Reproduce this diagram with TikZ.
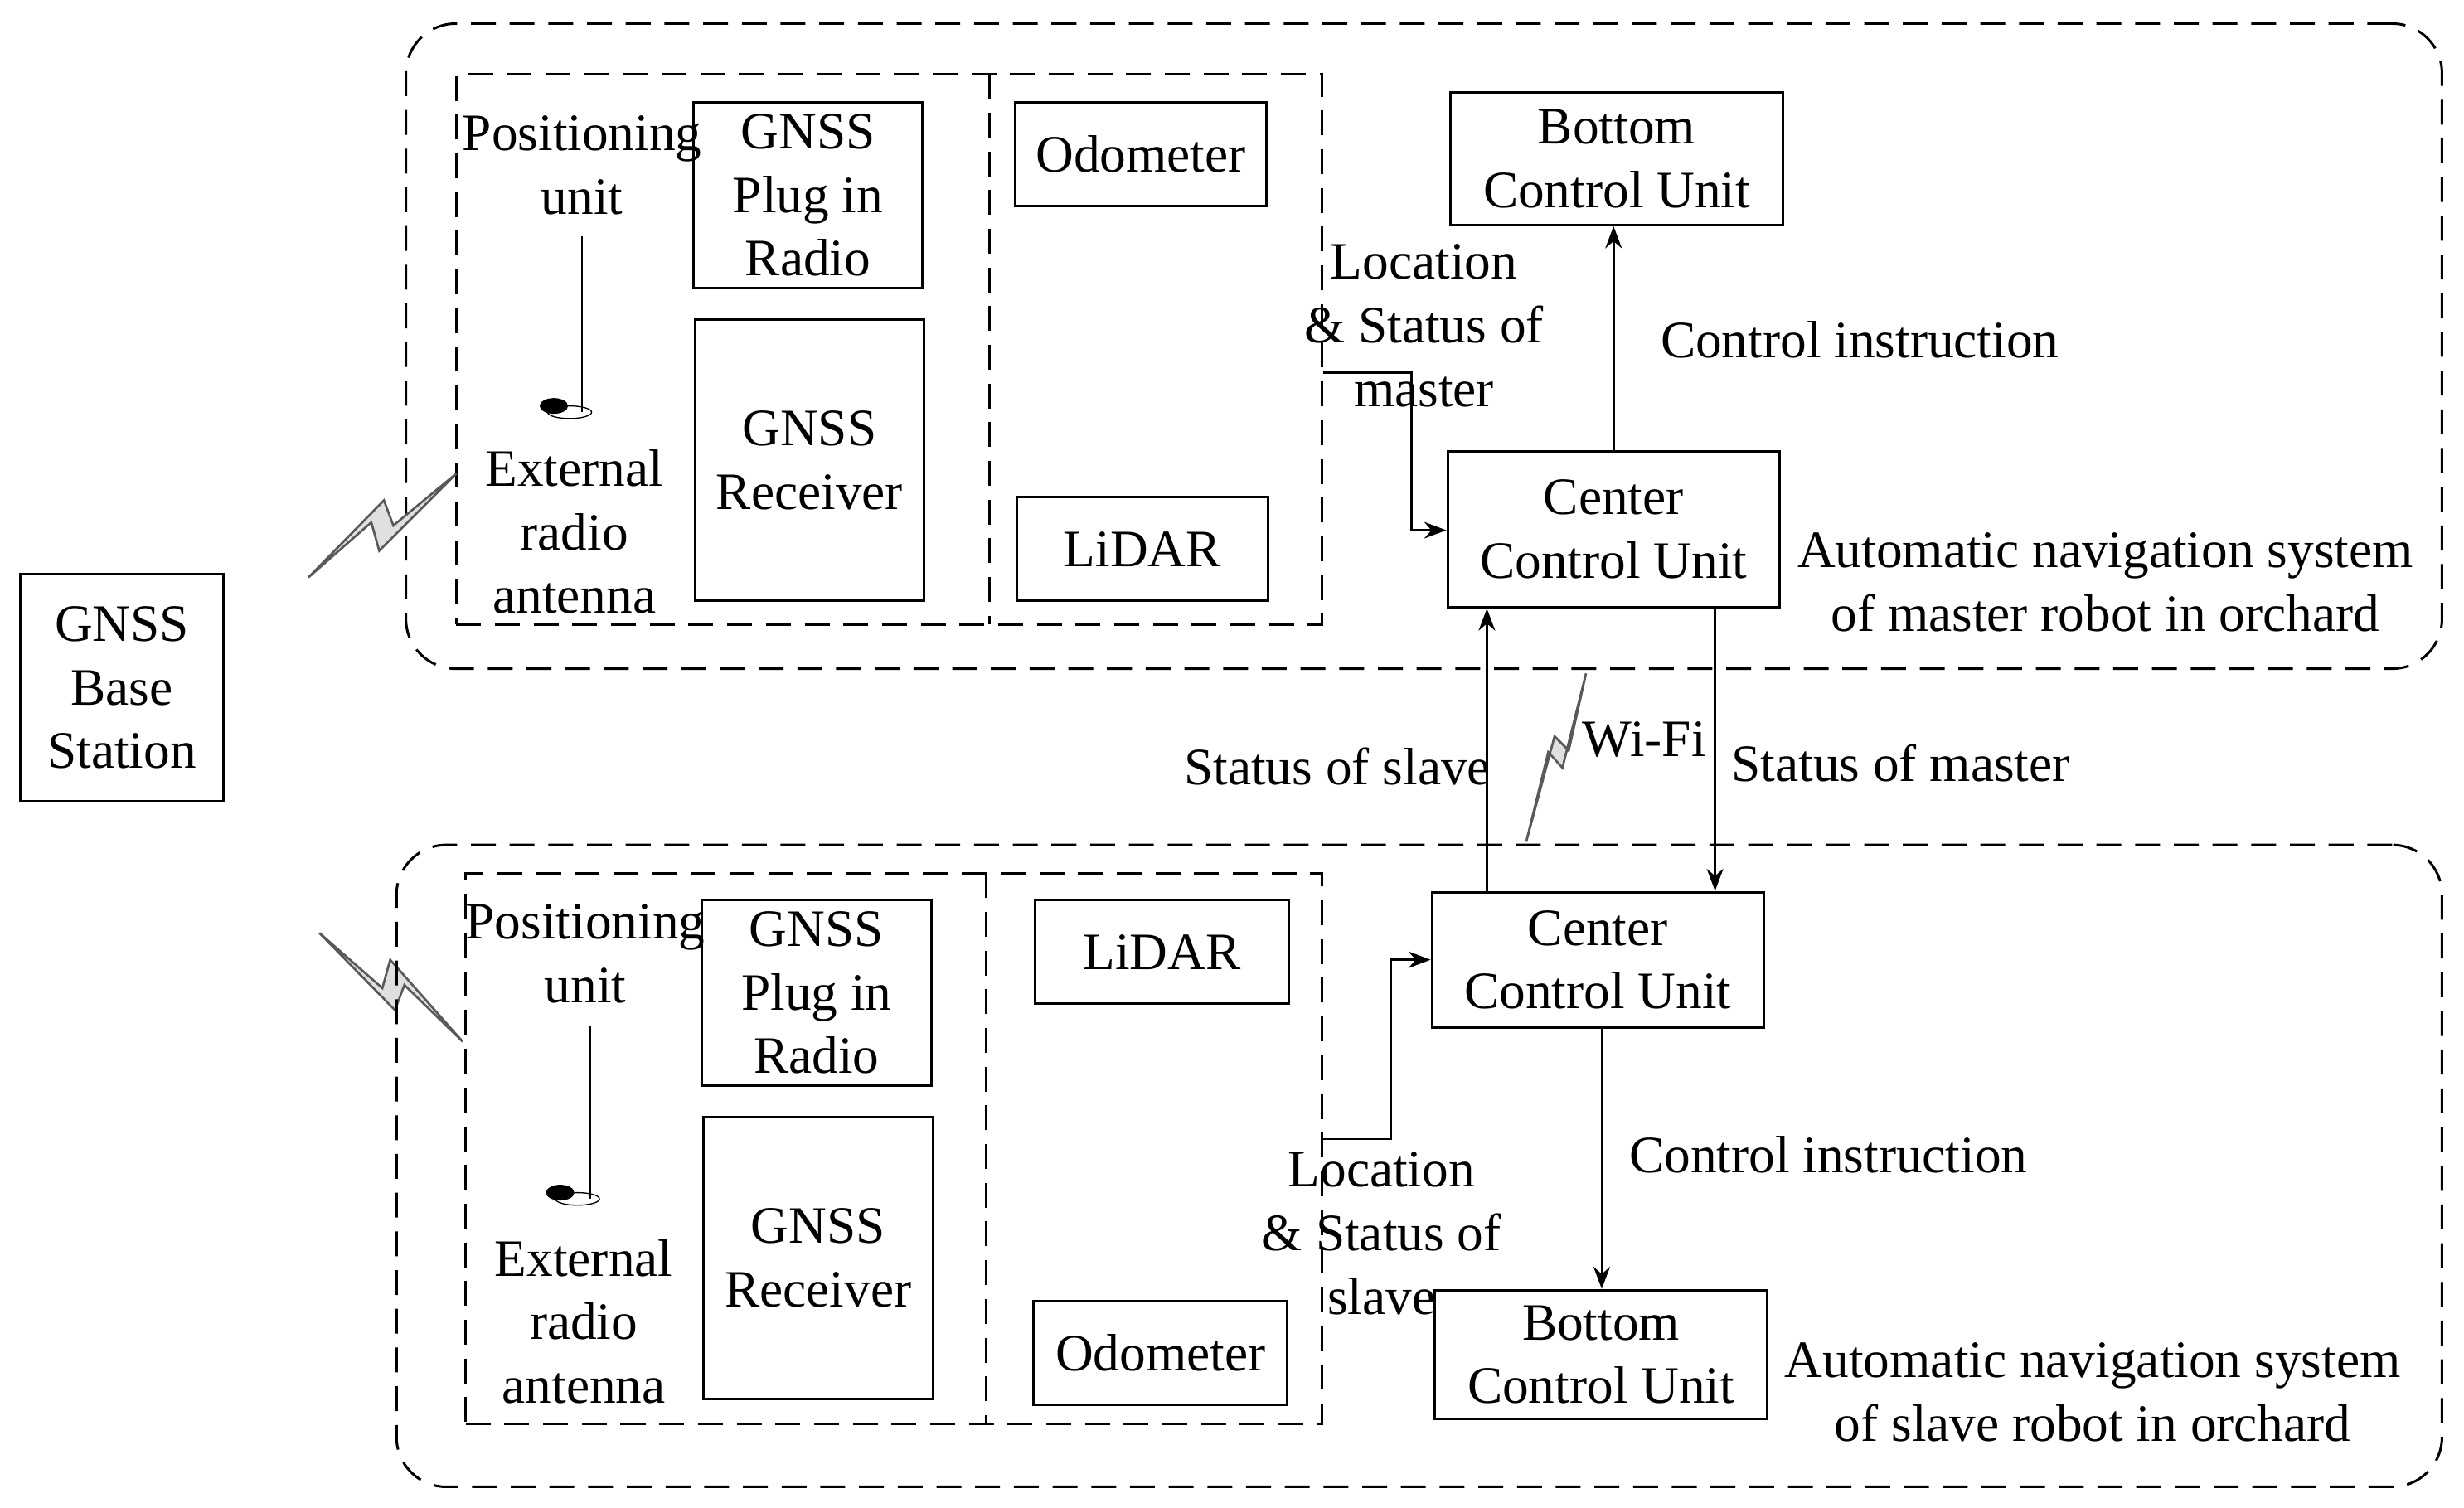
\documentclass[tikz,border=0pt]{standalone}
\usepackage{fontspec}
\setmainfont{Liberation Serif}
\usetikzlibrary{arrows.meta}
\begin{document}
\begin{tikzpicture}[x=0.02cm,y=-0.02cm,
  every node/.style={font=\fontsize{19}{23}\selectfont, align=center, inner sep=0pt},
  box/.style={draw, line width=0.9pt},
  dsh/.style={draw, line width=0.9pt, dash pattern=on 9pt off 5pt},
  arr/.style={draw, line width=0.8pt, -{Stealth[length=8pt,width=6pt]}},
  bolt/.style={draw=black!65, line width=0.8pt, fill=black!12, line join=miter}]
\useasboundingbox (0,0) rectangle (1566,958);
\newcommand{\bx}[6]{\node[#1,minimum width={(#4-#3)*0.02cm},minimum height={(#6-#5)*0.02cm}] (#2) at ({(#3+#4)/2},{(#5+#6)/2}) {};}
% top system
\bx{dsh,rounded corners=18pt}{outT}{258}{1552}{15}{425}
\bx{dsh}{inT}{290}{840}{47}{397}
\draw[dsh] (629,47) -- (629,397);
\bx{box}{plugT}{441}{586}{65}{183}
\node at (plugT) {GNSS\\Plug in\\Radio};
\bx{box}{recT}{442}{587}{203}{382}
\node at (recT) {GNSS\\Receiver};
\bx{box}{odoT}{645}{805}{65}{131}
\node at (odoT) {Odometer};
\bx{box}{lidT}{646}{806}{316}{382}
\node at (lidT) {LiDAR};
\bx{box}{bcuT}{922}{1133}{59}{143}
\node at (bcuT) {Bottom\\Control Unit};
\bx{box}{ccuT}{920}{1131}{287}{386}
\node at (ccuT) {Center\\Control Unit};
\node (posT) at (370,105) {Positioning\\unit};
\node (extT) at (365,338) {External\\radio\\antenna};
\draw[line width=0.6pt] (370,150) -- (370,262);
\fill (352,258) ellipse (9 and 5);
\draw (362,262) ellipse (14 and 4);
\node (locT) at (905,207) {Location\\\& Status of\\master};
\draw[arr] (inT.east |- {(0,237)}) -- (897,237) -- (897,337) -- (ccuT.west |- {(0,337)});
\draw[arr] (ccuT.north) -- (bcuT.south -| ccuT.north);
\node (ciT) at (1182,216) {Control instruction};
\node (autoT) at (1338,370) {Automatic navigation system\\of master robot in orchard};
% base station
\bx{box}{base}{13}{142}{365}{509}
\node at (base) {GNSS\\Base\\Station};
\draw[bolt] (196,367) -- (244,318) -- (250,334) -- (290,301) -- (241,350) -- (236,332) -- cycle;
\draw[bolt] (203,593) -- (251,642) -- (257,626) -- (294,662) -- (248,610) -- (243,628) -- cycle;
% bottom system
\bx{dsh,rounded corners=18pt}{outB}{252}{1552}{537}{945}
\bx{dsh}{inB}{296}{840}{555}{905}
\draw[dsh] (627,555) -- (627,905);
\bx{box}{plugB}{446}{592}{572}{690}
\node at (plugB) {GNSS\\Plug in\\Radio};
\bx{box}{recB}{447}{593}{710}{889}
\node at (recB) {GNSS\\Receiver};
\bx{box}{lidB}{658}{819}{572}{638}
\node at (lidB) {LiDAR};
\bx{box}{odoB}{657}{818}{827}{893}
\node at (odoB) {Odometer};
\bx{box}{ccuB}{910}{1121}{567}{653}
\node at (ccuB) {Center\\Control Unit};
\bx{box}{bcuB}{912}{1123}{820}{902}
\node at (bcuB) {Bottom\\Control Unit};
\node (posB) at (372,606) {Positioning\\unit};
\node (extB) at (371,840) {External\\radio\\antenna};
\draw[line width=0.6pt] (375,652) -- (375,762);
\fill (356,758) ellipse (9 and 5);
\draw (367,762) ellipse (14 and 4);
\node (locB) at (878,784) {Location\\\& Status of\\slave};
\draw[arr] (inB.east |- {(0,724)}) -- (884,724) -- (884,610) -- (ccuB.west |- {(0,610)});
\draw[arr] (ccuB.south -| {(1018,0)}) -- (bcuB.north -| {(1018,0)});
\node (ciB) at (1162,734) {Control instruction};
\node (autoB) at (1330,885) {Automatic navigation system\\of slave robot in orchard};
% links
\draw[arr] (ccuB.north -| {(945,0)}) -- (ccuT.south -| {(945,0)});
\draw[arr] (ccuT.south -| {(1090,0)}) -- (ccuB.north -| {(1090,0)});
\node (sS) at (850,487) {Status of slave};
\node (sM) at (1208,485) {Status of master};
\draw[bolt] (970,535) -- (988,468) -- (997,477) -- (1008,428) -- (993,488) -- (984,478) -- cycle;
\node (wifi) at (1045,470) {Wi-Fi};
\end{tikzpicture}
\end{document}
